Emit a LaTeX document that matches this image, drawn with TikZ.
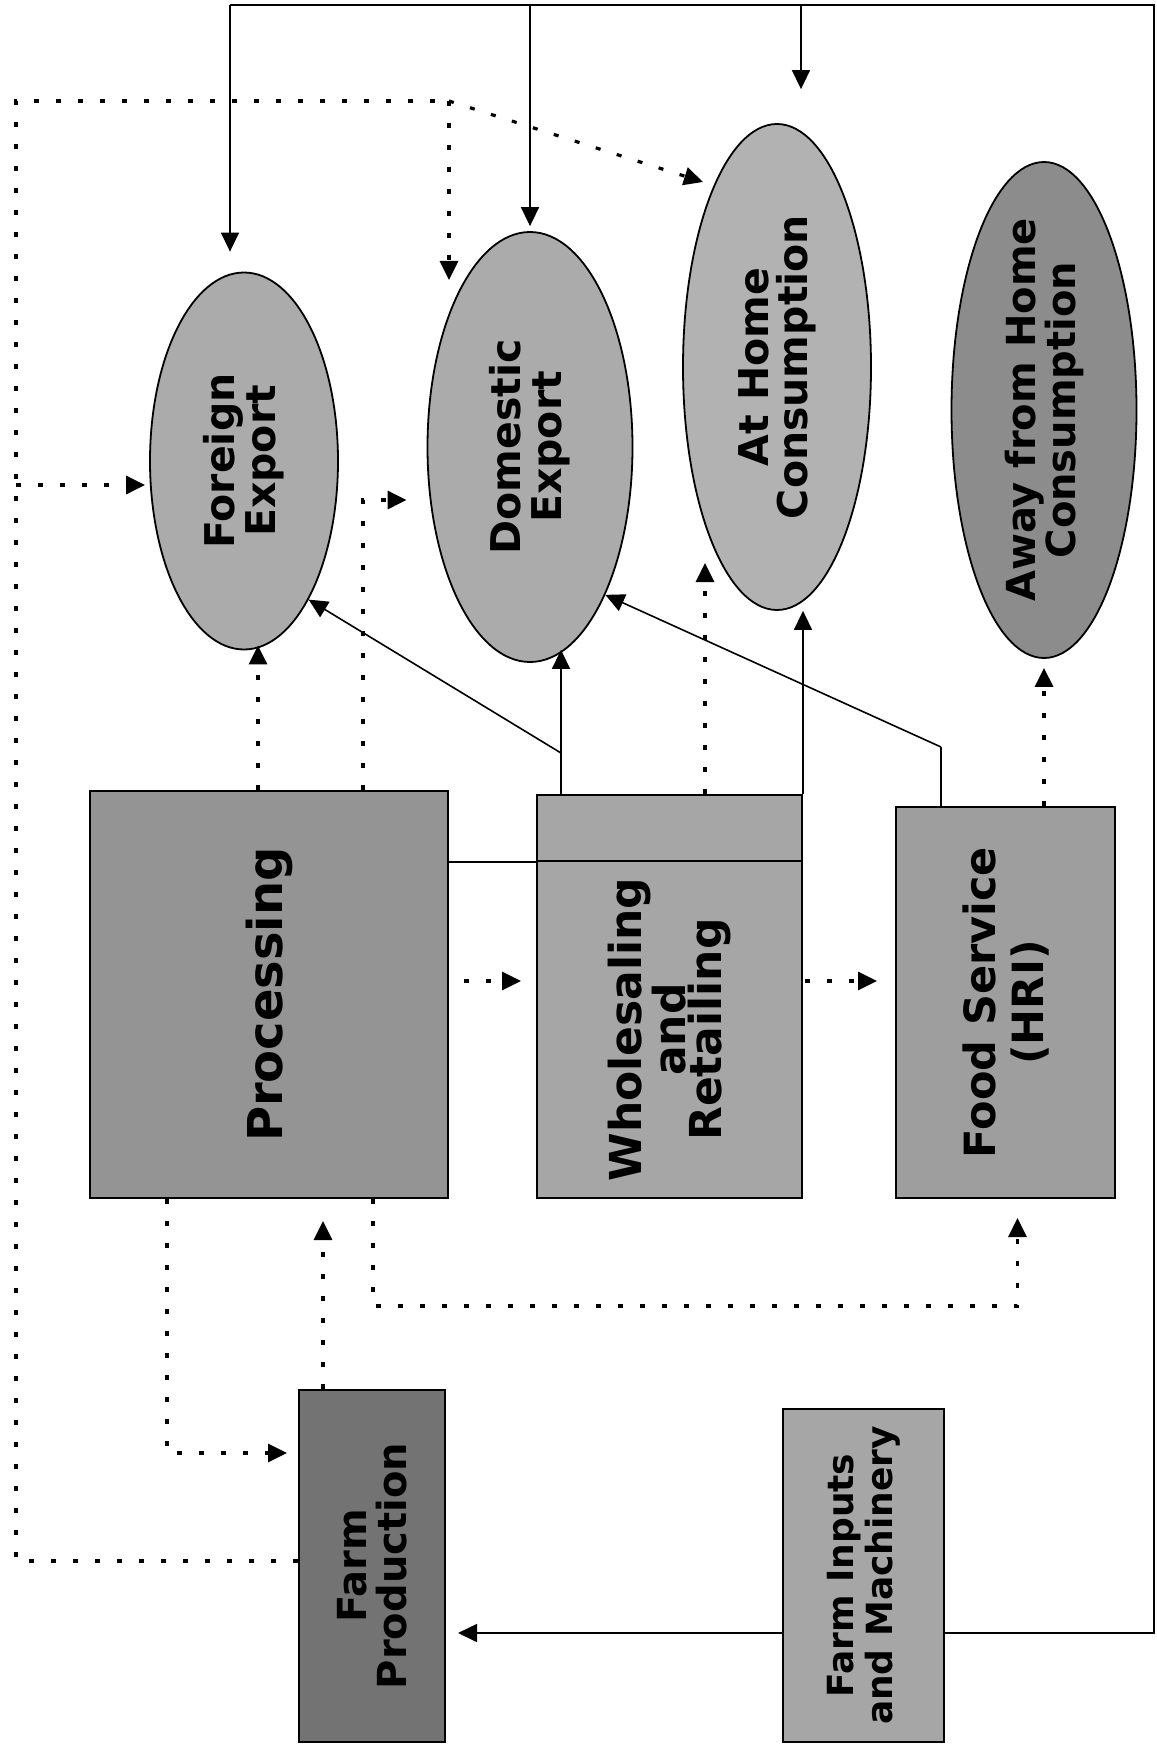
\documentclass[tikz,border=0pt]{standalone}
\usepackage{fontspec}
\setmainfont{DejaVu Sans}
\usetikzlibrary{shapes.geometric, arrows.meta, calc}

\tikzset{
  box/.style={draw, line width=2pt, fill=black!35, inner sep=0pt},
  oval/.style={ellipse, draw, line width=1.8pt, fill=black!33, inner sep=0pt},
  txt/.style={rotate=90, align=center, font=\bfseries\fontsize{41}{39}\selectfont},
  boxtxt/.style={txt, font=\bfseries\fontsize{44}{36}\selectfont},
  link/.style={line width=1.6pt},
  flow/.style={link, -{Triangle[length=19pt,width=18pt]}},
  dotlink/.style={line width=3.2pt, dash pattern=on 5pt off 17pt},
  dotflow/.style={dotlink, -{Triangle[length=19pt,width=18pt]}},
}

\begin{document}
\begin{tikzpicture}[x=1pt, y=-1pt]
        \useasboundingbox (0,0) rectangle (1156,1744);

        % Outlets
        \node[oval, minimum width=188pt, minimum height=377pt] (fexp) at (244,461) {};
        \node[oval, minimum width=205pt, minimum height=430pt] (dexp) at (530,447) {};
        \node[oval, fill=black!30, minimum width=188pt, minimum height=486pt] (home) at (777,367) {};
        \node[oval, fill=black!45, minimum width=185pt, minimum height=496pt] (away) at (1044,410) {};

        % Chain
        \node[box, fill=black!42, minimum width=358pt, minimum height=407pt] (proc) at (269,994.5) {};
        \node[box, minimum width=265pt, minimum height=66pt] (wtop) at (669.5,828) {};
        \node[box, minimum width=265pt, minimum height=337pt] (whole) at (669.5,1029.5) {};
        \node[box, fill=black!38, minimum width=219pt, minimum height=391pt] (food) at (1005.5,1002.5) {};
        \node[box, fill=black!55, minimum width=146pt, minimum height=352pt] (farm) at (372,1566) {};
        \node[box, minimum width=161pt, minimum height=333pt] (inputs) at (863.5,1575.5) {};

        % Labels
        \node[txt, font=\bfseries\fontsize{41}{41}\selectfont] (fexptext) at (fexp) {Foreign\\Export};
        \node[txt, font=\bfseries\fontsize{41}{41}\selectfont] (dexptext) at (dexp) {Domestic\\Export};
        \node[txt] (hometext) at (home) {At Home\\Consumption};
        \node[txt, font=\bfseries\fontsize{40}{37}\selectfont] (awaytext) at (away) {Away from Home\\Consumption};
        \node[boxtxt, font=\bfseries\fontsize{48}{40}\selectfont] (proctext) at (proc) {Processing};
        \node[boxtxt] (wholetext) at (whole) {Wholesaling\\and\\Retailing};
        \node[boxtxt, font=\bfseries\fontsize{43}{48}\selectfont] (foodtext) at (food) {Food Service\\(HRI)};
        \node[boxtxt, font=\bfseries\fontsize{40}{40}\selectfont] (farmtext) at (farm) {Farm\\Production};
        \node[boxtxt, font=\bfseries\fontsize{36}{39}\selectfont] (inputstext) at (inputs) {Farm Inputs\\and Machinery};

        % Inputs loop
        \coordinate (railS) at (1154,1633);
        \coordinate (railN) at (1154,5);
        \coordinate (fdrop) at ([xshift=-14pt]fexp.north);
        \coordinate (hdrop) at ([xshift=24pt]home.north);
        \draw[flow, shorten >=12pt] (inputs.west |- railS) -- (farm.east |- railS);
        \draw[link] (inputs.east |- railS) -- (railS) -- (railN) -- (fdrop |- railN);
        \draw[flow, shorten >=20pt] (fdrop |- railN) -- (fdrop);
        \draw[flow, shorten >=5pt] (dexp.north |- railN) -- (dexp.north);
        \draw[flow, shorten >=34pt] (hdrop |- railN) -- (hdrop);

        % Solid flows up
        \coordinate (wsplit) at (561,753);
        \coordinate (fsplit) at (941,747);
        \draw[link] (wsplit |- wtop.north) -- (wsplit);
        \draw[flow, shorten >=-13pt] (wsplit) -- (wsplit |- dexp.south);
        \draw[flow] (wsplit) -- (fexp.-65);
        \draw[link] (fsplit |- food.north) -- (fsplit);
        \draw[flow] (fsplit) -- (dexp.-63);
        \draw[flow] (wtop.north east) -- (wtop.north east |- home.south);
        \draw[link] (proc.east |- wtop.south) -- (wtop.south west);

        % Dotted flows up
        \coordinate (pl) at ([xshift=-11pt]proc.north);
        \coordinate (pr) at (363,500);
        \coordinate (dleft) at ([xshift=-20pt]dexp.west);
        \coordinate (wl) at (705,563);
        \draw[dotflow, shorten >=-5pt] (pl) -- (pl |- fexp.south);
        \draw[dotflow] (pr |- proc.north) -- (pr) -- (dleft |- pr);
        \draw[dotflow] (wl |- wtop.north) -- (wl);
        \draw[dotflow, shorten >=9pt] (away.south |- food.north) -- (away.south);

        % Dotted flows across
        \coordinate (mid) at (0,981);
        \draw[dotflow, shorten <=15pt, shorten >=15pt] (proc.east |- mid) -- (whole.west |- mid);
        \draw[dotflow, shorten <=2pt, shorten >=18pt] (whole.east |- mid) -- (food.west |- mid);

        % Dotted flows below
        \coordinate (pf) at (167,1453);
        \coordinate (fu) at ([xshift=-49pt]farm.north);
        \coordinate (pfs) at (373,1306);
        \coordinate (fb) at ([xshift=12pt]food.south);
        \draw[dotflow, shorten >=11pt] (pf |- proc.south) -- (pf) -- (farm.west |- pf);
        \draw[dotflow, shorten >=22pt] (fu) -- (fu |- proc.south);
        \draw[dotflow, shorten >=19pt] (pfs |- proc.south) -- (pfs) -| (fb);

        % Farm loop
        \coordinate (loopS) at (16,1561);
        \coordinate (loopN) at (16,101);
        \coordinate (fork) at (449,101);
        \coordinate (fx) at (16,485);
        \coordinate (dtip) at (449,280);
        \coordinate (htip) at (703,182);
        \draw[dotlink] (farm.west |- loopS) -- (loopS) -- (loopN) -- (fork);
        \draw[dotflow] (fork) -- (dtip);
        \draw[dotflow] (fork) -- (htip);
        \draw[dotflow, shorten >=4pt] (fx) -- (fexp.west |- fx);
\end{tikzpicture}
\end{document}
